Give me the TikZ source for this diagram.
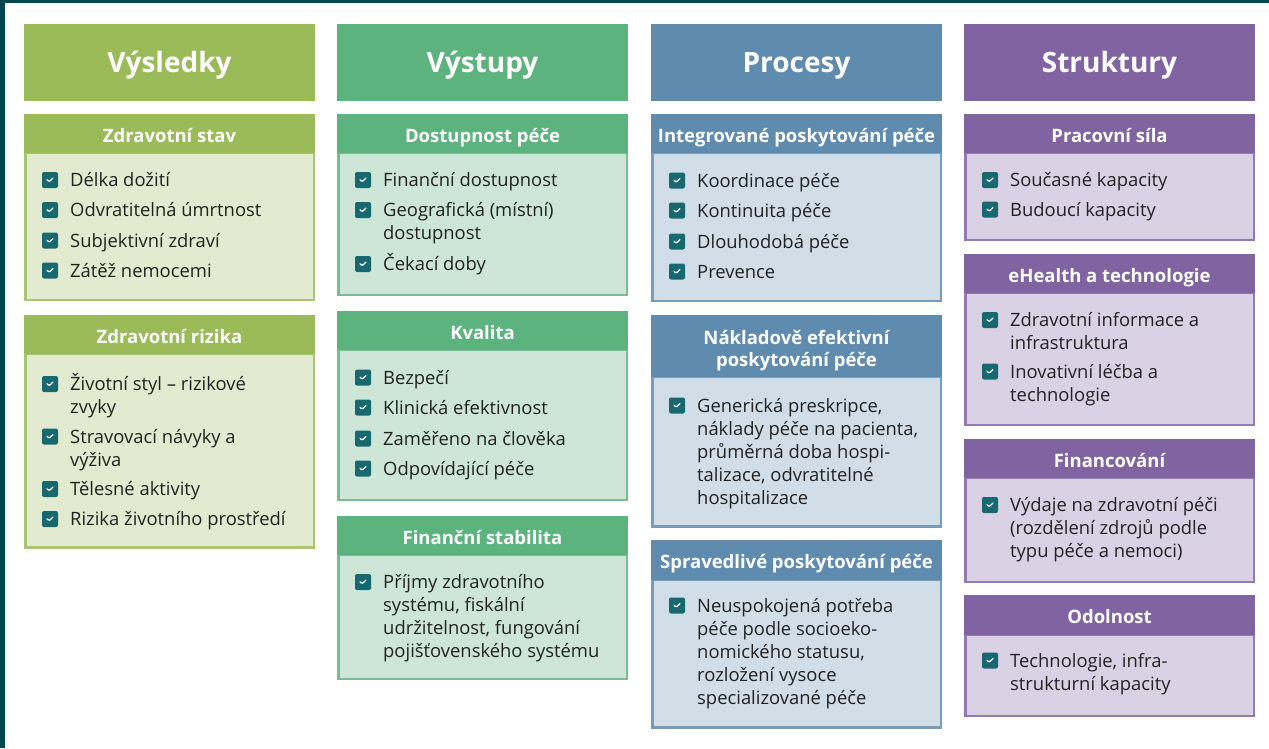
\documentclass[tikz,border=0pt]{standalone}
\usepackage{fontspec}
\setmainfont{Open Sans}
\usetikzlibrary{fit,calc}
\definecolor{frame}{HTML}{00474F}
\definecolor{gA}{HTML}{9BBB59}
\definecolor{gAL}{HTML}{E2EBCF}
\definecolor{gB}{HTML}{5DB37E}
\definecolor{gBL}{HTML}{CDE6D7}
\definecolor{bC}{HTML}{5F8BAE}
\definecolor{bCL}{HTML}{D1DEE7}
\definecolor{pD}{HTML}{8064A2}
\definecolor{pDL}{HTML}{DAD1E4}
\definecolor{chk}{HTML}{17686F}
\definecolor{txt}{HTML}{222222}
\tikzset{
  boxfit/.style={inner sep=0pt, outer sep=0pt},
  bodybox/.style={boxfit, line width=2.5pt},
  hdrbox/.style={boxfit, draw=none},
  maintitle/.style={anchor=base, inner sep=0pt, text=white, font=\fontsize{28pt}{34pt}\selectfont\bfseries},
  subtitle/.style={anchor=base, inner sep=0pt, text=white, font=\fontsize{18.5pt}{22pt}\selectfont\bfseries},
  itxt/.style={anchor=base west, inner sep=0pt, text=txt, font=\fontsize{18.4pt}{23pt}\selectfont},
  cbox/.style={fill=chk, rounded corners=2pt, minimum size=16pt, inner sep=0pt,
    path picture={\draw[white, line width=1.3pt, line cap=round, line join=round]
      ([shift={(-3pt,0.3pt)}]path picture bounding box.center) --
      ([shift={(-1pt,-2pt)}]path picture bounding box.center) --
      ([shift={(3pt,2pt)}]path picture bounding box.center);}}
}
% #1 name, #2 x, #3 header top, #4 header bottom, #5 body bottom, #6 colour
\newcommand\panelbox[6]{%
  \node[bodybox, draw=#6!85!white, fill=#6L, fit={({#2+1.25},#4) ({#2+289.75},{#5-1.25})}] (#1b) {};
  \node[hdrbox, fill=#6, fit={(#2,#3) ({#2+291},#4)}] (#1h) {};
}
% #1 name, #2 x, #3 baseline, #4 text
\newcommand\paneltitle[4]{%
  \node[subtitle] (#1) at ({#2+145.5},#3) {\parbox[t]{289pt}{\centering #4}};
}
\newcommand\itm[4]{%
  \node[cbox] (#1c) at ({#2+26},{#3-6.5}) {};
  \node[itxt] (#1) at ({#2+46},#3) {\parbox[t]{244pt}{\raggedright #4}};
}
\begin{document}
\begin{tikzpicture}[x=1pt,y=-1pt]
\useasboundingbox (0,0) rectangle (1269,748);
\fill[white] (0,0) rectangle (1269,748);
\fill[frame] (0,0) rectangle (1269,3);
\fill[frame] (0,0) rectangle (5,748);

% main headers
\node[hdrbox, fill=gA, fit={(24,24) (315,101)}] (H1) {};
\node[maintitle] (H1t) at (169.5,72.5) {Výsledky};
\node[hdrbox, fill=gB, fit={(337,24) (628,101)}] (H2) {};
\node[maintitle] (H2t) at (482.5,72.5) {Výstupy};
\node[hdrbox, fill=bC, fit={(651,24) (942,101)}] (H3) {};
\node[maintitle] (H3t) at (796.5,72.5) {Procesy};
\node[hdrbox, fill=pD, fit={(964,24) (1255,101)}] (H4) {};
\node[maintitle] (H4t) at (1109.5,72.5) {Struktury};

% column 1
\panelbox{A1}{24}{114}{153}{301}{gA}
\paneltitle{A1t}{24}{142}{Zdravotní stav}
\itm{A1a}{24}{186.5}{Délka dožití}
\itm{A1b}{24}{216.5}{Odvratitelná úmrtnost}
\itm{A1c}{24}{247}{Subjektivní zdraví}
\itm{A1d}{24}{277}{Zátěž nemocemi}

\panelbox{A2}{24}{315}{354}{548.5}{gA}
\paneltitle{A2t}{24}{343}{Zdravotní rizika}
\itm{A2a}{24}{390.5}{Životní styl – rizikové\\zvyky}
\itm{A2b}{24}{443}{Stravovací návyky a\\výživa}
\itm{A2c}{24}{495.5}{Tělesné aktivity}
\itm{A2d}{24}{525.5}{Rizika životního prostředí}

% column 2
\panelbox{B1}{337}{114}{153}{296}{gB}
\paneltitle{B1t}{337}{142}{Dostupnost péče}
\itm{B1a}{337}{186.5}{Finanční dostupnost}
\itm{B1b}{337}{216.5}{Geografická (místní)\\dostupnost}
\itm{B1c}{337}{270.5}{Čekací doby}

\panelbox{B2}{337}{311}{350}{501}{gB}
\paneltitle{B2t}{337}{339}{Kvalita}
\itm{B2a}{337}{384}{Bezpečí}
\itm{B2b}{337}{414}{Klinická efektivnost}
\itm{B2c}{337}{445}{Zaměřeno na člověka}
\itm{B2d}{337}{475}{Odpovídající péče}

\panelbox{B3}{337}{516}{555}{680}{gB}
\paneltitle{B3t}{337}{544}{Finanční stabilita}
\itm{B3a}{337}{588.5}{Příjmy zdravotního\\systému, fiskální\\udržitelnost, fungování\\pojišťovenského systému}

% column 3
\panelbox{C1}{651}{114}{153}{302}{bC}
\paneltitle{C1t}{651}{142}{Integrované poskytování péče}
\itm{C1a}{651}{187}{Koordinace péče}
\itm{C1b}{651}{217}{Kontinuita péče}
\itm{C1c}{651}{248}{Dlouhodobá péče}
\itm{C1d}{651}{278}{Prevence}

\panelbox{C2}{651}{315}{377}{527.5}{bC}
\paneltitle{C2t}{651}{344}{Nákladově efektivní\\poskytování péče}
\itm{C2a}{651}{412}{Generická preskripce,\\náklady péče na pacienta,\\průměrná doba hospi-\\talizace, odvratitelné\\hospitalizace}

\panelbox{C3}{651}{540}{580}{728.5}{bC}
\paneltitle{C3t}{651}{568}{Spravedlivé poskytování péče}
\itm{C3a}{651}{612}{Neuspokojená potřeba\\péče podle socioeko-\\nomického statusu,\\rozložení vysoce\\specializované péče}

% column 4
\panelbox{D1}{964}{114}{153}{241}{pD}
\paneltitle{D1t}{964}{142}{Pracovní síla}
\itm{D1a}{964}{186.5}{Současné kapacity}
\itm{D1b}{964}{216}{Budoucí kapacity}

\panelbox{D2}{964}{254}{293}{426}{pD}
\paneltitle{D2t}{964}{282}{eHealth a technologie}
\itm{D2a}{964}{326.5}{Zdravotní informace a\\infrastruktura}
\itm{D2b}{964}{378}{Inovativní léčba a\\technologie}

\panelbox{D3}{964}{439}{478}{583}{pD}
\paneltitle{D3t}{964}{467}{Financování}
\itm{D3a}{964}{511.5}{Výdaje na zdravotní péči\\(rozdělení zdrojů podle\\typu péče a nemoci)}

\panelbox{D4}{964}{595}{635}{717}{pD}
\paneltitle{D4t}{964}{623}{Odolnost}
\itm{D4a}{964}{667}{Technologie, infra-\\strukturní kapacity}
\end{tikzpicture}
\end{document}
